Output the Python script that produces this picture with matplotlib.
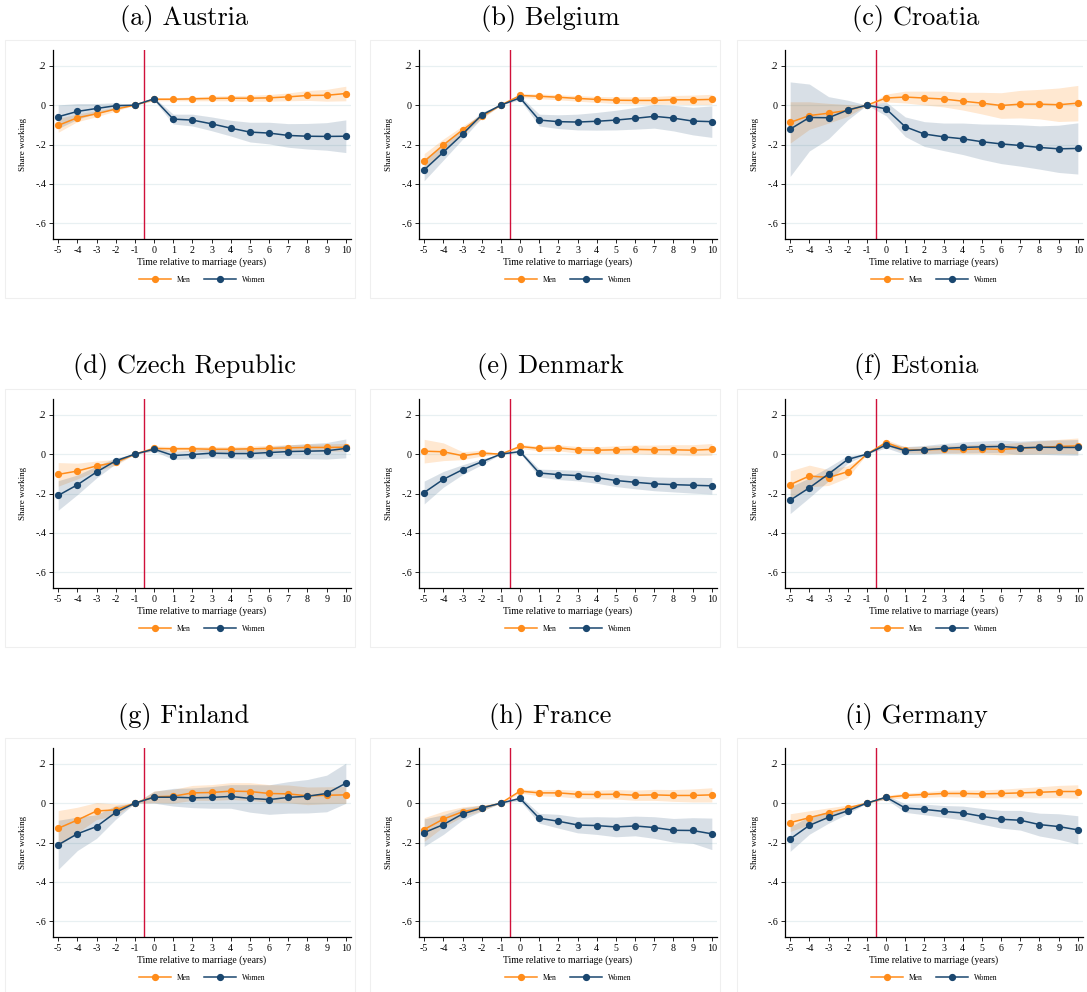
import matplotlib
matplotlib.use("Agg")
import matplotlib.pyplot as plt
from matplotlib.lines import Line2D
from matplotlib.patches import Rectangle
import numpy as np

# event time relative to marriage
years = list(range(-5, 11))
x_labels = [str(t) for t in years]
y_ticks = [0.2, 0.0, -0.2, -0.4, -0.6]
y_tick_labels = [".2", "0", "-.2", "-.4", "-.6"]

titles = ["(a) Austria", "(b) Belgium", "(c) Croatia",
          "(d) Czech Republic", "(e) Denmark", "(f) Estonia",
          "(g) Finland", "(h) France", "(i) Germany"]

# point estimates (men / women) and 95% CI half-widths
men_austria = [-0.103, -0.064, -0.044, -0.020, 0, 0.030, 0.030, 0.032, 0.034, 0.035, 0.035, 0.037, 0.042, 0.049, 0.050, 0.059]
men_austria_ci = [0.035, 0.020, 0.015, 0.010, 0, 0.008, 0.008, 0.010, 0.012, 0.013, 0.015, 0.017, 0.020, 0.025, 0.030, 0.037]
women_austria = [-0.059, -0.032, -0.017, -0.003, 0, 0.032, -0.071, -0.076, -0.095, -0.117, -0.137, -0.142, -0.154, -0.158, -0.159, -0.158]
women_austria_ci = [0.060, 0.040, 0.025, 0.015, 0, 0.008, 0.025, 0.030, 0.035, 0.040, 0.050, 0.055, 0.060, 0.065, 0.070, 0.083]

men_belgium = [-0.286, -0.202, -0.126, -0.057, 0, 0.049, 0.045, 0.040, 0.034, 0.029, 0.025, 0.024, 0.024, 0.027, 0.027, 0.029]
men_belgium_ci = [0.040, 0.030, 0.020, 0.012, 0, 0.010, 0.012, 0.013, 0.014, 0.015, 0.017, 0.018, 0.020, 0.022, 0.024, 0.026]
women_belgium = [-0.329, -0.239, -0.148, -0.050, 0, 0.037, -0.076, -0.084, -0.086, -0.082, -0.076, -0.067, -0.057, -0.066, -0.081, -0.084]
women_belgium_ci = [0.055, 0.040, 0.025, 0.015, 0, 0.010, 0.030, 0.035, 0.040, 0.045, 0.050, 0.055, 0.060, 0.065, 0.070, 0.080]

men_croatia = [-0.088, -0.053, -0.041, -0.027, 0, 0.036, 0.041, 0.036, 0.031, 0.020, 0.010, -0.002, 0.005, 0.005, 0.002, 0.010]
men_croatia_ci = [0.105, 0.070, 0.050, 0.030, 0, 0.020, 0.030, 0.035, 0.040, 0.045, 0.055, 0.065, 0.070, 0.075, 0.085, 0.090]
women_croatia = [-0.122, -0.063, -0.064, -0.025, 0, -0.019, -0.110, -0.147, -0.161, -0.171, -0.186, -0.197, -0.205, -0.215, -0.222, -0.220]
women_croatia_ci = [0.240, 0.170, 0.107, 0.050, 0, 0.035, 0.050, 0.063, 0.070, 0.080, 0.090, 0.100, 0.105, 0.110, 0.120, 0.130]

men_czech = [-0.103, -0.086, -0.060, -0.042, 0, 0.029, 0.027, 0.027, 0.025, 0.025, 0.027, 0.029, 0.032, 0.034, 0.034, 0.035]
men_czech_ci = [0.060, 0.040, 0.025, 0.015, 0, 0.012, 0.012, 0.012, 0.013, 0.013, 0.014, 0.015, 0.016, 0.017, 0.018, 0.020]
women_czech = [-0.210, -0.156, -0.091, -0.034, 0, 0.025, -0.007, -0.002, 0.005, 0.003, 0.003, 0.008, 0.013, 0.015, 0.017, 0.029]
women_czech_ci = [0.075, 0.050, 0.030, 0.015, 0, 0.010, 0.020, 0.022, 0.024, 0.026, 0.028, 0.030, 0.034, 0.038, 0.042, 0.048]

men_denmark = [0.015, 0.012, -0.008, 0.005, 0, 0.039, 0.029, 0.032, 0.022, 0.020, 0.022, 0.024, 0.022, 0.022, 0.020, 0.024]
men_denmark_ci = [0.060, 0.045, 0.020, 0.015, 0, 0.010, 0.012, 0.015, 0.017, 0.018, 0.020, 0.022, 0.024, 0.026, 0.028, 0.030]
women_denmark = [-0.195, -0.128, -0.079, -0.039, 0, 0.013, -0.096, -0.104, -0.109, -0.119, -0.134, -0.143, -0.151, -0.155, -0.158, -0.161]
women_denmark_ci = [0.058, 0.040, 0.025, 0.015, 0, 0.008, 0.020, 0.025, 0.027, 0.029, 0.031, 0.033, 0.035, 0.037, 0.040, 0.042]

men_estonia = [-0.155, -0.111, -0.119, -0.089, 0, 0.059, 0.022, 0.022, 0.025, 0.024, 0.027, 0.024, 0.030, 0.034, 0.039, 0.042]
men_estonia_ci = [0.070, 0.055, 0.040, 0.030, 0, 0.015, 0.015, 0.018, 0.020, 0.022, 0.025, 0.028, 0.030, 0.033, 0.036, 0.040]
women_estonia = [-0.234, -0.171, -0.101, -0.027, 0, 0.047, 0.018, 0.022, 0.029, 0.034, 0.037, 0.039, 0.032, 0.035, 0.034, 0.034]
women_estonia_ci = [0.068, 0.050, 0.035, 0.020, 0, 0.015, 0.020, 0.022, 0.025, 0.028, 0.030, 0.032, 0.034, 0.036, 0.038, 0.040]

men_finland = [-0.128, -0.086, -0.040, -0.034, 0, 0.032, 0.035, 0.052, 0.054, 0.061, 0.059, 0.049, 0.047, 0.037, 0.040, 0.042]
men_finland_ci = [0.090, 0.065, 0.043, 0.030, 0, 0.030, 0.035, 0.038, 0.040, 0.043, 0.045, 0.045, 0.045, 0.045, 0.043, 0.043]
women_finland = [-0.212, -0.156, -0.119, -0.047, 0, 0.030, 0.030, 0.027, 0.029, 0.034, 0.024, 0.018, 0.029, 0.035, 0.049, 0.101]
women_finland_ci = [0.125, 0.085, 0.060, 0.035, 0, 0.030, 0.045, 0.050, 0.055, 0.060, 0.070, 0.075, 0.080, 0.085, 0.093, 0.102]

men_france = [-0.134, -0.081, -0.044, -0.024, 0, 0.061, 0.052, 0.052, 0.045, 0.044, 0.045, 0.040, 0.042, 0.039, 0.039, 0.042]
men_france_ci = [0.060, 0.040, 0.025, 0.015, 0, 0.010, 0.015, 0.018, 0.020, 0.022, 0.024, 0.026, 0.028, 0.030, 0.033, 0.036]
women_france = [-0.150, -0.109, -0.055, -0.025, 0, 0.024, -0.077, -0.092, -0.111, -0.114, -0.121, -0.116, -0.124, -0.138, -0.139, -0.156]
women_france_ci = [0.070, 0.050, 0.030, 0.015, 0, 0.012, 0.025, 0.035, 0.040, 0.045, 0.050, 0.050, 0.055, 0.060, 0.065, 0.080]

men_germany = [-0.099, -0.074, -0.049, -0.025, 0, 0.029, 0.039, 0.044, 0.049, 0.049, 0.047, 0.049, 0.052, 0.055, 0.059, 0.059]
men_germany_ci = [0.045, 0.035, 0.025, 0.015, 0, 0.010, 0.012, 0.014, 0.016, 0.018, 0.020, 0.022, 0.025, 0.028, 0.031, 0.034]
women_germany = [-0.182, -0.113, -0.072, -0.039, 0, 0.030, -0.025, -0.032, -0.042, -0.050, -0.067, -0.082, -0.087, -0.109, -0.119, -0.136]
women_germany_ci = [0.063, 0.045, 0.030, 0.015, 0, 0.010, 0.022, 0.027, 0.030, 0.035, 0.040, 0.045, 0.050, 0.058, 0.065, 0.072]

panels = [
    (men_austria, men_austria_ci, women_austria, women_austria_ci),
    (men_belgium, men_belgium_ci, women_belgium, women_belgium_ci),
    (men_croatia, men_croatia_ci, women_croatia, women_croatia_ci),
    (men_czech, men_czech_ci, women_czech, women_czech_ci),
    (men_denmark, men_denmark_ci, women_denmark, women_denmark_ci),
    (men_estonia, men_estonia_ci, women_estonia, women_estonia_ci),
    (men_finland, men_finland_ci, women_finland, women_finland_ci),
    (men_france, men_france_ci, women_france, women_france_ci),
    (men_germany, men_germany_ci, women_germany, women_germany_ci),
]

ORANGE = "#ff8c1a"
NAVY = "#1a476f"
RED = "#d0103a"
GRID = "#e8f0f2"
SERIF = ["Liberation Serif", "DejaVu Serif"]

W, H = 1087, 992
fig = plt.figure(figsize=(W / 100, H / 100), dpi=100)
fig.patch.set_facecolor("white")

col_left = [53, 419, 785]
col_box = [5, 370, 737]
row_top = [50, 399, 748]
ax_w, ax_h = 298, 189

for i, (m, m_ci, w, w_ci) in enumerate(panels):
    r, c = divmod(i, 3)
    left = col_left[c] / W
    bottom = 1 - (row_top[r] + ax_h) / H
    ax = fig.add_axes([left, bottom, ax_w / W, ax_h / H])

    # faint frame around each panel
    bx = col_box[c]
    by = row_top[r] - 10
    fig.patches.append(Rectangle((bx / W, 1 - (by + 258) / H), 350 / W, 258 / H,
                                 transform=fig.transFigure, fill=False,
                                 edgecolor="#efefef", lw=0.8, zorder=0))

    m = np.array(m); m_ci = np.array(m_ci)
    w = np.array(w); w_ci = np.array(w_ci)

    for yt in y_ticks:
        ax.axhline(yt, color=GRID, lw=0.9, zorder=0)

    ax.fill_between(years, m - m_ci, m + m_ci, color=ORANGE, alpha=0.2, lw=0, zorder=1)
    ax.fill_between(years, w - w_ci, w + w_ci, color=NAVY, alpha=0.17, lw=0, zorder=1)
    ax.axvline(-0.5, color=RED, lw=1.0, zorder=2)
    ax.plot(years, m, color=ORANGE, lw=1.1, marker="o", ms=4.2, zorder=3)
    ax.plot(years, w, color=NAVY, lw=1.1, marker="o", ms=4.2, zorder=4)

    ax.set_xlim(-5.27, 10.27)
    ax.set_ylim(-0.68, 0.28)
    ax.set_xticks(years)
    ax.set_xticklabels(x_labels, fontsize=7.2, family=SERIF)
    ax.set_yticks(y_ticks)
    ax.set_yticklabels(y_tick_labels, fontsize=7.2, family=SERIF)
    ax.tick_params(axis="both", direction="out", length=3, width=0.6, pad=2)
    for s in ("top", "right"):
        ax.spines[s].set_visible(False)
    for s in ("left", "bottom"):
        ax.spines[s].set_linewidth(0.9)

    ax.set_xlabel("Time relative to marriage (years)", fontsize=7.0, family=SERIF, labelpad=2)
    ax.set_ylabel("Share working", fontsize=6.5, family=SERIF, labelpad=6)

    ax.text(0.44, 1.0 + 32 / ax_h, titles[i], transform=ax.transAxes, ha="center",
            va="center", fontsize=19, family=["cmr10", "DejaVu Serif"])

    handles = [Line2D([], [], color=ORANGE, lw=1.1, marker="o", ms=4.2),
               Line2D([], [], color=NAVY, lw=1.1, marker="o", ms=4.2)]
    ax.legend(handles, ["Men", "Women"], loc="center", bbox_to_anchor=(0.5, -41 / ax_h),
              ncol=2, frameon=False, prop={"family": SERIF, "size": 5.5},
              handlelength=4.2, columnspacing=1.7, handletextpad=0.8)

fig.savefig("out.png", dpi=100, facecolor="white")
